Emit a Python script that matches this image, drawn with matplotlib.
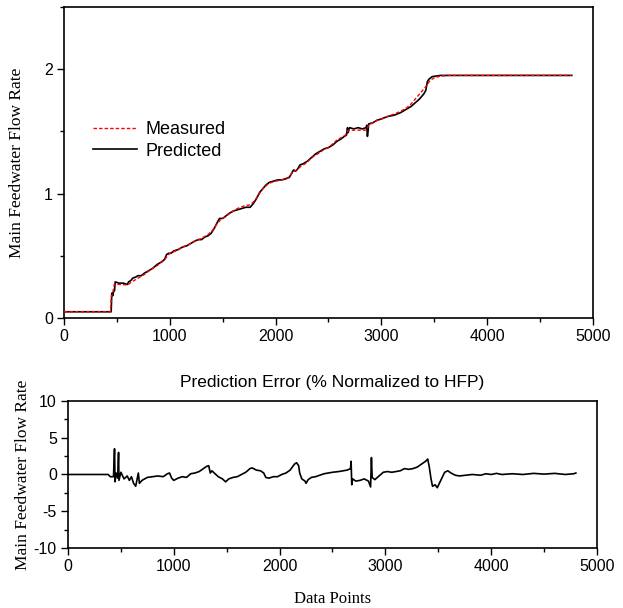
import matplotlib
matplotlib.use("Agg")
import matplotlib.pyplot as plt
from matplotlib.ticker import MultipleLocator

# ---- data ----
meas_x = [0, 440, 448, 460, 475, 520, 600, 640, 700, 760, 820, 880, 940, 980, 1000,
          1060, 1120, 1180, 1240, 1300, 1360, 1400, 1440, 1480, 1520, 1580, 1640,
          1700, 1760, 1800, 1840, 1880, 1920, 1960, 2000, 2060, 2120, 2160, 2200,
          2240, 2280, 2320, 2360, 2400, 2450, 2500, 2540, 2580, 2620, 2660, 2690,
          2740, 2800, 2860, 2880, 2920, 2960, 3000, 3060, 3120, 3180, 3240, 3280,
          3320, 3360, 3400, 3430, 3460, 3500, 3560, 3650, 4800]
meas_y = [0.05, 0.05, 0.18, 0.19, 0.27, 0.27, 0.265, 0.29, 0.32, 0.35, 0.39, 0.42,
          0.46, 0.50, 0.52, 0.54, 0.57, 0.59, 0.62, 0.64, 0.67, 0.70, 0.75, 0.79,
          0.81, 0.85, 0.88, 0.90, 0.91, 0.94, 0.99, 1.04, 1.07, 1.09, 1.10, 1.11,
          1.13, 1.17, 1.19, 1.22, 1.24, 1.27, 1.30, 1.32, 1.35, 1.37, 1.40, 1.43,
          1.45, 1.47, 1.51, 1.51, 1.51, 1.51, 1.55, 1.57, 1.59, 1.60, 1.62, 1.64,
          1.66, 1.69, 1.72, 1.76, 1.80, 1.84, 1.87, 1.91, 1.93, 1.945, 1.95, 1.95]

pred_x = [0, 440, 446, 452, 462, 470, 478, 484, 520, 560, 600, 610, 630, 650, 680,
          700, 730, 760, 800, 840, 880, 920, 950, 970, 990, 1010, 1040, 1080, 1120,
          1160, 1200, 1240, 1270, 1300, 1330, 1360, 1390, 1420, 1450, 1470, 1500,
          1530, 1560, 1600, 1640, 1680, 1720, 1760, 1790, 1820, 1850, 1880, 1910,
          1940, 1980, 2020, 2060, 2100, 2130, 2150, 2170, 2190, 2210, 2230, 2260,
          2300, 2340, 2380, 2420, 2460, 2500, 2540, 2580, 2620, 2650, 2670, 2680,
          2685, 2700, 2740, 2780, 2820, 2855, 2862, 2868, 2874, 2880, 2920, 2960,
          3000, 3060, 3120, 3180, 3240, 3280, 3320, 3360, 3400, 3420, 3435, 3450,
          3480, 3520, 3560, 4800]
pred_y = [0.05, 0.05, 0.05, 0.20, 0.18, 0.22, 0.22, 0.29, 0.28, 0.28, 0.27, 0.29,
          0.30, 0.32, 0.33, 0.34, 0.34, 0.36, 0.38, 0.40, 0.43, 0.45, 0.47, 0.51,
          0.52, 0.52, 0.54, 0.55, 0.57, 0.58, 0.60, 0.62, 0.63, 0.63, 0.65, 0.66,
          0.68, 0.72, 0.77, 0.80, 0.80, 0.82, 0.84, 0.86, 0.87, 0.88, 0.89, 0.89,
          0.92, 0.96, 1.01, 1.04, 1.07, 1.09, 1.10, 1.11, 1.11, 1.12, 1.13, 1.16,
          1.19, 1.18, 1.20, 1.23, 1.24, 1.26, 1.29, 1.32, 1.34, 1.36, 1.37, 1.39,
          1.42, 1.44, 1.46, 1.47, 1.53, 1.49, 1.53, 1.52, 1.53, 1.52, 1.53, 1.55,
          1.46, 1.50, 1.56, 1.57, 1.59, 1.60, 1.62, 1.63, 1.65, 1.68, 1.70, 1.73,
          1.76, 1.80, 1.83, 1.90, 1.92, 1.94, 1.945, 1.95, 1.95]

err_x = [0, 380, 400, 430, 440, 445, 455, 470, 478, 482, 500, 530, 560, 580, 600,
         620, 640, 655, 665, 675, 700, 750, 800, 850, 900, 940, 960, 980, 1000,
         1040, 1080, 1120, 1160, 1200, 1240, 1280, 1310, 1330, 1345, 1360, 1390,
         1420, 1460, 1490, 1520, 1560, 1600, 1640, 1680, 1720, 1740, 1780, 1820,
         1850, 1870, 1900, 1940, 1980, 2020, 2060, 2100, 2140, 2160, 2180, 2190,
         2210, 2240, 2250, 2270, 2300, 2340, 2380, 2420, 2460, 2500, 2560, 2600,
         2640, 2670, 2676, 2682, 2690, 2720, 2760, 2800, 2840, 2860, 2868, 2875,
         2900, 2940, 2980, 3020, 3060, 3100, 3140, 3180, 3220, 3260, 3300, 3340,
         3380, 3400, 3415, 3430, 3445, 3470, 3490, 3510, 3540, 3560, 3590, 3620,
         3660, 3700, 3760, 3820, 3900, 3950, 4000, 4050, 4100, 4200, 4300, 4400,
         4500, 4600, 4700, 4780, 4800]
err_y = [0, 0, -0.3, -0.3, 3.5, -1.0, 0.2, -0.5, 3.0, -0.8, 0.3, -0.6, -0.2, -0.8,
         -0.3, -1.2, -1.6, -0.5, 0.2, -1.2, -0.8, -0.4, -0.3, -0.2, -0.3, 0.1, 0.2,
         -0.5, -0.8, -0.5, -0.3, -0.4, 0.1, 0.2, 0.4, 0.8, 1.1, 1.2, 0.2, 0.5, 0.1,
         -0.3, -0.6, -1.0, -0.6, -0.4, -0.3, 0.0, 0.3, 0.8, 0.9, 0.6, 0.5, 0.2, -0.4,
         -0.5, -0.3, -0.3, 0.0, 0.2, 0.6, 1.4, 1.6, 1.2, 0.2, -0.6, -0.9, -1.2, -0.7,
         -0.4, -0.3, -0.1, 0.1, 0.2, 0.3, 0.4, 0.5, 0.6, 0.8, 1.8, -1.4, -0.6, -0.9,
         -0.8, -0.6, -0.9, -1.7, 2.3, -0.4, -0.7, -0.2, 0.3, 0.4, 0.3, 0.4, 0.5, 0.8,
         0.7, 0.8, 1.0, 1.4, 1.8, 2.1, 1.0, -0.5, -1.6, -1.4, -1.8, -1.2, -0.3, 0.3,
         0.5, 0.2, -0.1, -0.2, -0.1, 0.0, -0.1, 0.1, 0.0, 0.15, 0.0, 0.1, 0.0,
         0.15, 0.05, 0.15, 0.0, 0.1, 0.2]

top_yticks = [0, 1, 2]
top_ytick_labels = ["0", "1", "2"]
xticks = [0, 1000, 2000, 3000, 4000, 5000]
xtick_labels = ["0", "1000", "2000", "3000", "4000", "5000"]
bot_yticks = [-10, -5, 0, 5, 10]
bot_ytick_labels = ["-10", "-5", "0", "5", "10"]

SANS = "Liberation Sans"
SERIF = "Liberation Serif"

fig = plt.figure(figsize=(6.23, 6.08), dpi=100)

ax1 = fig.add_axes([0.1027, 0.4770, 0.8491, 0.5115])
ax2 = fig.add_axes([0.1091, 0.0987, 0.8492, 0.2418])

for ax in (ax1, ax2):
    for s in ax.spines.values():
        s.set_linewidth(1.2)
        s.set_color("black")
    ax.tick_params(which="both", direction="out", top=False, right=False,
                   width=1.0, colors="black")
    ax.tick_params(which="major", length=5, labelsize=11.5, pad=3)
    ax.tick_params(which="minor", length=3)
    ax.set_xlim(0, 5000)
    ax.set_xticks(xticks)
    ax.set_xticklabels(xtick_labels, fontfamily=SANS)
    ax.xaxis.set_minor_locator(MultipleLocator(500))

# top panel
l_meas, = ax1.plot(meas_x, meas_y, color="red", lw=1.0, ls=(0, (2.5, 1.5)),
                   label="Measured", zorder=3)
l_pred, = ax1.plot(pred_x, pred_y, color="black", lw=1.2, label="Predicted",
                   zorder=2)
ax1.set_ylim(0, 2.5)
ax1.set_yticks(top_yticks)
ax1.set_yticklabels(top_ytick_labels, fontfamily=SANS)
ax1.yaxis.set_minor_locator(MultipleLocator(0.5))
ax1.set_ylabel("Main Feedwater Flow Rate", fontfamily=SERIF, fontsize=12.5,
               labelpad=14)
leg = ax1.legend(handles=[l_meas, l_pred], loc="upper left",
                 bbox_to_anchor=(0.025, 0.685), frameon=False,
                 prop={"family": SANS, "size": 13}, handlelength=2.4,
                 handletextpad=0.5, labelspacing=0.25)

# bottom panel
ax2.plot(err_x, err_y, color="black", lw=1.2)
ax2.set_ylim(-10, 10)
ax2.set_yticks(bot_yticks)
ax2.set_yticklabels(bot_ytick_labels, fontfamily=SANS)
ax2.yaxis.set_minor_locator(MultipleLocator(2.5))
ax2.set_ylabel("Main Feedwater Flow Rate", fontfamily=SERIF, fontsize=12.5,
               labelpad=2)
ax2.set_xlabel("Data Points", fontfamily=SERIF, fontsize=12, labelpad=12)
ax2.set_title("Prediction Error (% Normalized to HFP)", fontfamily=SANS,
              fontsize=12.5, pad=10)

fig.savefig("out.png", dpi=100)
